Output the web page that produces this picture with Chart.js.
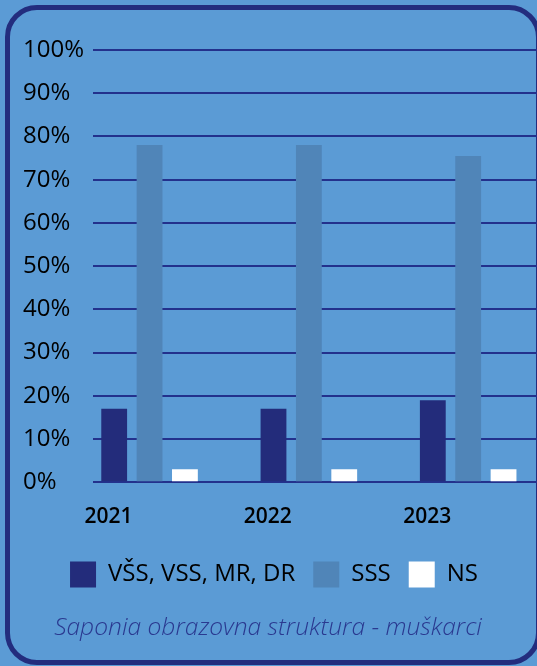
<!DOCTYPE html>
<html>
<head>
<meta charset="utf-8">
<script src="https://cdn.jsdelivr.net/npm/chart.js@4.4.1/dist/chart.umd.min.js"></script>
<style>
  html, body { margin: 0; padding: 0; background: #5b9bd5; overflow: hidden; }
  #wrap { position: relative; width: 537px; height: 666px; }
  #frame {
    position: absolute; left: 5px; top: 5px; width: 526px; height: 650px;
    border: 5px solid #232d7e; border-radius: 32px;
  }
  #chart { position: absolute; left: 0; top: 0; }
</style>
</head>
<body>
<div id="wrap">
  <div id="frame"></div>
  <canvas id="chart" width="537" height="666"></canvas>
</div>
<script>
// podaci
const years = ['2021', '2022', '2023'];
const vssValues = [17, 17, 19];
const sssValues = [78, 78, 75.5];
const nsValues = [3, 3, 3];
const seriesNames = ['VŠS, VSS, MR, DR', 'SSS', 'NS'];
const yTickValues = [0, 10, 20, 30, 40, 50, 60, 70, 80, 90, 100];
const subtitleText = 'Saponia obrazovna struktura - muškarci';

const toPoints = (arr) => arr.map((v, i) => ({ x: i, y: v }));

// legenda i naslov malo ulijevo, kao na originalu
const shiftBoxes = {
    id: 'shiftBoxes',
    afterLayout(chart) {
        if (chart.legend) { chart.legend.left -= 6; chart.legend.right -= 6; }
        if (chart.titleBlock) { chart.titleBlock.left -= 12; chart.titleBlock.right -= 12; }
    }
};

const ctx = document.getElementById('chart').getContext('2d');
new Chart(ctx, {
    type: 'bar',
    data: {
        datasets: [
            { label: seriesNames[0], data: toPoints(vssValues), backgroundColor: '#232c7b' },
            { label: seriesNames[1], data: toPoints(sssValues), backgroundColor: '#5085b8' },
            { label: seriesNames[2], data: toPoints(nsValues), backgroundColor: '#ffffff' }
        ]
    },
    plugins: [shiftBoxes],
    options: {
        responsive: false,
        animation: false,
        categoryPercentage: 0.666,
        barPercentage: 0.73,
        layout: { padding: { top: 50, left: 23, right: 0, bottom: 13 } },
        scales: {
            x: {
                type: 'linear',
                offset: false,
                min: -0.355,
                max: 2.432,
                grid: { display: false },
                border: { display: false },
                afterBuildTicks: (scale) => {
                    scale.ticks = years.map((y, i) => ({ value: i }));
                },
                ticks: {
                    padding: 14,
                    labelOffset: -41,
                    maxRotation: 0,
                    color: '#000000',
                    font: { family: 'Open Sans', size: 21, weight: 600 },
                    callback: (v) => years[v]
                }
            },
            y: {
                min: 0,
                max: 100,
                afterFit: (scale) => { scale.width = 70; },
                afterBuildTicks: (scale) => {
                    scale.ticks = yTickValues.map(v => ({ value: v }));
                },
                grid: { color: '#23318c', lineWidth: 2, drawTicks: false },
                border: { display: false },
                ticks: {
                    crossAlign: 'far',
                    padding: 8,
                    color: '#000000',
                    font: { family: 'Open Sans', size: 24, weight: 500 },
                    callback: (v) => v + '%'
                }
            }
        },
        plugins: {
            tooltip: { enabled: false },
            legend: {
                position: 'bottom',
                labels: {
                    boxWidth: 26,
                    boxHeight: 26,
                    padding: 18,
                    color: '#000000',
                    font: { family: 'Open Sans', size: 24, weight: 500 }
                }
            },
            title: {
                display: true,
                position: 'bottom',
                text: subtitleText,
                color: '#2a3990',
                padding: { top: 16, bottom: 10 },
                font: { family: 'Open Sans', size: 24.6, style: 'italic', weight: 300 }
            }
        }
    }
});
</script>
</body>
</html>
